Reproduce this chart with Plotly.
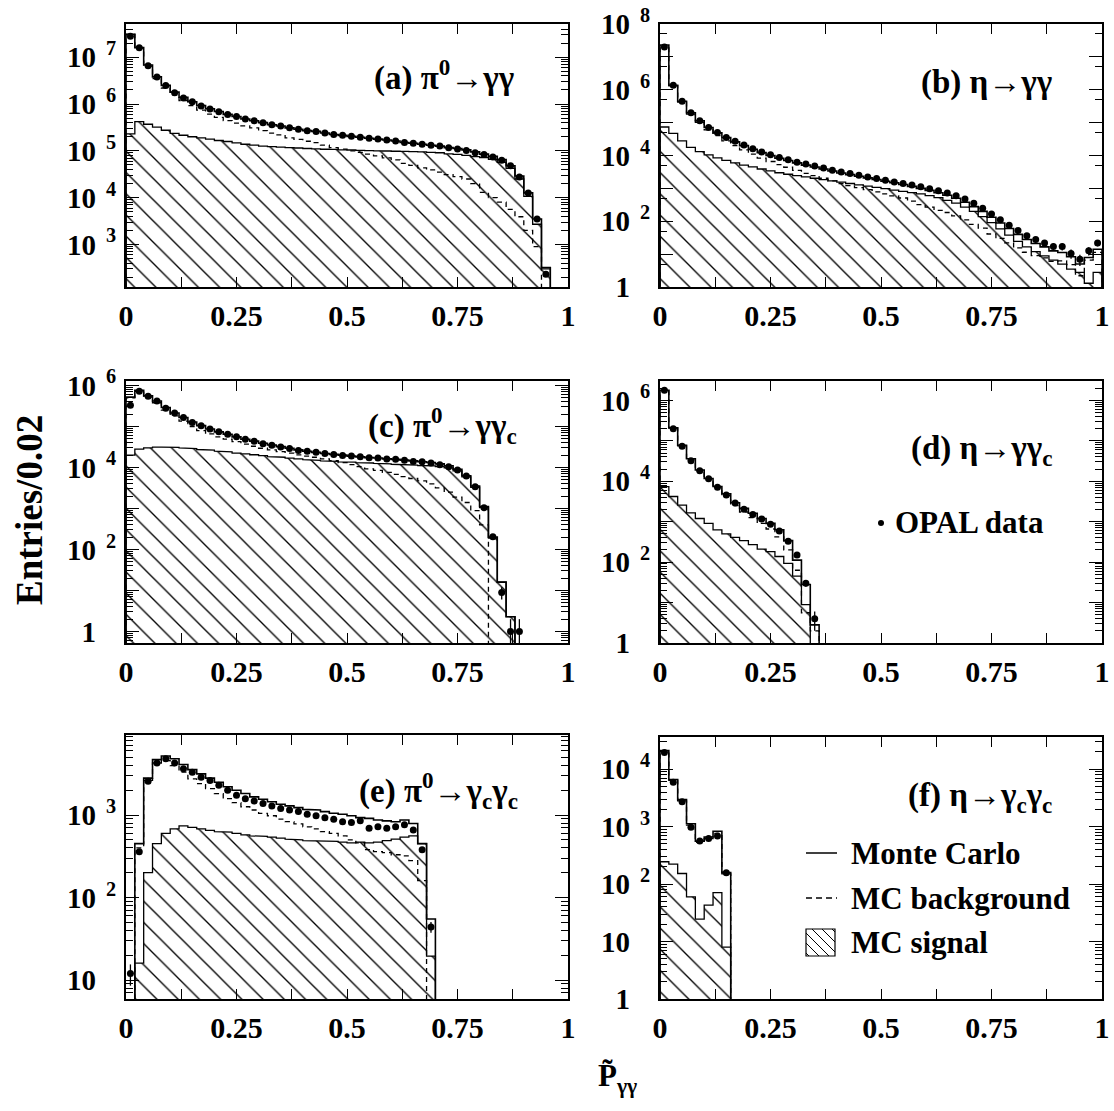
import math
import plotly.graph_objects as go

BIN = 0.02

# ---------------- panel (a) pi0 -> gamma gamma ----------------
a_total = [3.1e7, 1.6e7, 6.8e6, 3.8e6, 2.5e6, 1.8e6, 1.4e6, 1.12e6, 9.3e5, 7.9e5, 6.9e5, 6.0e5,
           5.4e5, 4.8e5, 4.4e5, 4.0e5, 3.6e5, 3.4e5, 3.1e5, 2.9e5, 2.7e5, 2.6e5, 2.4e5, 2.24e5,
           2.14e5, 2.04e5, 1.95e5, 1.86e5, 1.78e5, 1.70e5, 1.62e5, 1.51e5, 1.45e5, 1.38e5, 1.32e5,
           1.26e5, 1.17e5, 1.12e5, 1.05e5, 9.5e4, 8.5e4, 7.6e4, 6.5e4, 4.8e4, 2.9e4, 1.26e4, 3.5e3, 320]
a_data = [2.8e7, 1.6e7, 6.6e6, 3.8e6, 2.5e6, 1.75e6, 1.35e6, 1.12e6, 9.1e5, 7.8e5, 6.8e5, 6.0e5,
          5.4e5, 4.8e5, 4.4e5, 4.0e5, 3.6e5, 3.4e5, 3.1e5, 2.9e5, 2.7e5, 2.6e5, 2.4e5, 2.24e5,
          2.14e5, 2.04e5, 1.95e5, 1.86e5, 1.78e5, 1.70e5, 1.62e5, 1.51e5, 1.45e5, 1.38e5, 1.32e5,
          1.26e5, 1.17e5, 1.10e5, 1.02e5, 9.1e4, 8.3e4, 7.4e4, 6.3e4, 4.8e4, 2.75e4, 1.26e4, 3.5e3, 230]
a_signal = [2.3e5, 4.2e5, 3.7e5, 3.2e5, 2.75e5, 2.35e5, 2.15e5, 2.0e5, 1.9e5, 1.78e5, 1.66e5, 1.58e5,
            1.48e5, 1.38e5, 1.32e5, 1.26e5, 1.23e5, 1.2e5, 1.17e5, 1.15e5, 1.12e5, 1.1e5, 1.08e5, 1.07e5,
            1.05e5, 1.04e5, 1.02e5, 1.01e5, 1.0e5, 9.9e4, 9.8e4, 9.7e4, 9.6e4, 9.5e4, 9.3e4, 9.1e4,
            8.6e4, 8.4e4, 8.0e4, 7.5e4, 7.2e4, 6.6e4, 5.7e4, 4.2e4, 2.5e4, 1.06e4, 2.7e3, 300]
a_background = [3.08e7, 1.56e7, 6.4e6, 3.5e6, 2.2e6, 1.57e6, 1.19e6, 9.2e5, 7.4e5, 6.1e5, 5.2e5, 4.4e5,
                3.9e5, 3.4e5, 3.1e5, 2.7e5, 2.4e5, 2.2e5, 1.9e5, 1.75e5, 1.6e5, 1.5e5, 1.32e5, 1.17e5,
                1.09e5, 1.0e5, 9.3e4, 8.5e4, 7.8e4, 7.1e4, 6.4e4, 5.4e4, 4.9e4, 4.3e4, 3.9e4, 3.5e4,
                3.1e4, 2.8e4, 2.5e4, 2.0e4, 1.3e4, 1.0e4, 8.0e3, 5.6e3, 3.9e3, 2.0e3, 900, 0]

# ---------------- panel (b) eta -> gamma gamma ----------------
b_total = [2.3e7, 1.38e6, 4.5e5, 2.0e5, 1.15e5, 7.1e4, 4.9e4, 3.5e4, 2.6e4, 2.0e4, 1.55e4, 1.23e4,
           1.0e4, 8300, 7100, 6000, 5100, 4500, 3900, 3400, 2950, 2630, 2340, 2090, 1860, 1660,
           1480, 1320, 1150, 1000, 870, 740, 620, 500, 380, 280, 200, 132, 89, 60, 40, 28, 21,
           16.6, 12.6, 11.2, 8.3, 5.0, 7.9, 14.1]
b_data = [2.0e7, 1.38e6, 4.5e5, 2.0e5, 1.15e5, 7.2e4, 5.0e4, 3.55e4, 2.7e4, 2.1e4, 1.62e4, 1.29e4,
          1.05e4, 8700, 7400, 6300, 5500, 4800, 4200, 3600, 3160, 2820, 2510, 2240, 2000, 1780,
          1580, 1410, 1260, 1120, 980, 850, 720, 600, 480, 355, 250, 166, 112, 76, 52, 36, 28,
          22, 17, 17, 10.5, 7, 12.6, 22]
b_signal = [74000, 47000, 28000, 17800, 13200, 10500, 8500, 7100, 6000, 5100, 4500, 3900, 3400,
            3000, 2700, 2450, 2240, 2040, 1860, 1700, 1550, 1410, 1290, 1175, 1070, 980, 890, 810,
            740, 680, 600, 525, 435, 355, 270, 200, 138, 91, 59, 38, 24.5, 16.6, 12.0, 8.9, 6.6,
            5.0, 3.5, 2.8, 1.3, 2.8]
b_background = [2.29e7, 1.33e6, 4.2e5, 1.82e5, 1.02e5, 6.06e4, 4.05e4, 2.79e4, 2.0e4, 1.49e4, 1.1e4,
                8400, 6600, 5300, 4400, 3550, 2860, 2460, 2040, 1700, 1400, 1220, 1050, 915, 790,
                680, 590, 510, 410, 320, 270, 215, 185, 145, 110, 80, 62, 41, 30, 22, 15.5, 11.4,
                9.0, 7.7, 6.0, 6.2, 4.8, 2.2, 6.6, 11.3]

# ---------------- panel (c) pi0 -> gamma gamma_c ----------------
c_total = [5.2e5, 7.6e5, 5.6e5, 4.2e5, 2.9e5, 2.14e5, 1.66e5, 1.29e5, 1.05e5, 8.7e4, 7.4e4, 6.5e4,
           5.6e4, 4.9e4, 4.4e4, 3.9e4, 3.55e4, 3.24e4, 2.95e4, 2.7e4, 2.5e4, 2.34e4, 2.19e4, 2.09e4,
           2.0e4, 1.9e4, 1.82e4, 1.74e4, 1.7e4, 1.62e4, 1.58e4, 1.51e4, 1.45e4, 1.38e4, 1.32e4,
           1.23e4, 1.1e4, 9100, 6300, 3550, 1120, 200, 16, 2.3]
c_data = [3.3e5, 7.2e5, 5.5e5, 4.2e5, 2.8e5, 2.14e5, 1.66e5, 1.26e5, 1.05e5, 8.7e4, 7.4e4, 6.5e4,
          5.6e4, 4.9e4, 4.4e4, 3.8e4, 3.5e4, 3.16e4, 2.9e4, 2.6e4, 2.5e4, 2.34e4, 2.19e4, 2.09e4,
          1.95e4, 1.9e4, 1.82e4, 1.74e4, 1.7e4, 1.62e4, 1.58e4, 1.51e4, 1.41e4, 1.38e4, 1.29e4,
          1.17e4, 1.05e4, 8700, 6200, 3400, 1050, 205, 9, 1, 1]
c_signal = [2.0e4, 2.8e4, 3.0e4, 3.15e4, 3.15e4, 3.1e4, 3.0e4, 2.9e4, 2.75e4, 2.65e4, 2.5e4, 2.4e4,
            2.25e4, 2.15e4, 2.05e4, 1.95e4, 1.85e4, 1.78e4, 1.7e4, 1.62e4, 1.55e4, 1.5e4, 1.45e4,
            1.41e4, 1.38e4, 1.35e4, 1.32e4, 1.29e4, 1.26e4, 1.23e4, 1.2e4, 1.17e4, 1.15e4, 1.12e4,
            1.1e4, 1.05e4, 9800, 8300, 5900, 3300, 1050, 190, 16, 2.3]
c_background = [5.0e5, 7.2e5, 5.2e5, 3.8e5, 2.5e5, 1.82e5, 1.35e5, 1.0e5, 7.9e4, 6.6e4, 5.6e4, 4.9e4,
                4.3e4, 3.7e4, 3.3e4, 2.95e4, 2.7e4, 2.45e4, 2.24e4, 2.04e4, 1.9e4, 1.78e4, 1.62e4,
                1.48e4, 1.32e4, 1.17e4, 1.05e4, 9300, 8500, 7600, 6800, 6000, 5400, 4700, 4000,
                3200, 2500, 1900, 1400, 890, 400, 0]

# ---------------- panel (d) eta -> gamma gamma_c ----------------
d_total = [1.78e6, 2.1e5, 7.8e4, 3.6e4, 1.9e4, 1.17e4, 7400, 4900, 2950, 2140, 1620, 1200, 910,
           630, 340, 112, 28, 2.8]
d_data = [1.78e6, 2.0e5, 7.4e4, 3.2e4, 1.82e4, 1.15e4, 7100, 4600, 2900, 2040, 1510, 1170, 870,
          590, 330, 150, 30, 4]
d_signal = [7400, 4200, 2570, 1660, 1200, 910, 630, 500, 410, 340, 270, 210, 182, 138, 93, 45, 8.9, 0]
d_background = [1.77e6, 2.06e5, 7.5e4, 3.4e4, 1.8e4, 1.1e4, 6800, 4400, 2500, 1740, 1260, 910, 660,
                420, 200, 63, 5.6, 2.0]

# ---------------- panel (e) pi0 -> gamma_c gamma_c ----------------
e_total = [0, 450, 2800, 4700, 5200, 4800, 4100, 3550, 3150, 2800, 2500, 2200, 2000, 1820, 1660,
           1550, 1450, 1350, 1290, 1230, 1170, 1150, 1100, 1050, 1020, 980, 930, 910, 870, 850,
           830, 870, 790, 450, 55]
e_data = [12, 360, 2570, 4270, 4800, 4270, 3630, 3310, 2880, 2630, 2290, 2000, 1740, 1580, 1480,
          1380, 1290, 1200, 1150, 1100, 1020, 980, 930, 890, 830, 810, 850, 690, 720, 690, 720,
          760, 660, 380, 44]
e_signal = [0, 16, 200, 450, 600, 680, 740, 710, 680, 650, 630, 620, 600, 575, 560, 550, 540, 525,
            510, 500, 490, 490, 480, 480, 470, 460, 470, 460, 470, 490, 510, 540, 560, 450, 19.5]
e_background = [0, 400, 2630, 4270, 4570, 3980, 3310, 2750, 2400, 2090, 1820, 1580, 1410, 1260,
                1150, 1050, 980, 890, 830, 780, 720, 680, 630, 600, 560, 500, 460, 380, 360, 350,
                330, 320, 280, 160, 0]

# ---------------- panel (f) eta -> gamma_c gamma_c ----------------
f_total = [2.1e4, 6600, 2950, 1120, 560, 660, 830, 158]
f_data = [1.95e4, 5900, 2700, 980, 560, 620, 690, 158]
f_signal = [245, 223, 153, 60, 24.5, 43, 71, 8]
f_background = [2.07e4, 6380, 2800, 1060, 535, 617, 760, 150]

# ---------------- texts ----------------
panel_labels = ["(a) π<sup>0</sup>→γγ", "(b) η→γγ", "(c) π<sup>0</sup>→γγ<sub>c</sub>",
                "(d) η→γγ<sub>c</sub>", "(e) π<sup>0</sup>→γ<sub>c</sub>γ<sub>c</sub>",
                "(f) η→γ<sub>c</sub>γ<sub>c</sub>"]
legend_labels = ["Monte Carlo", "MC background", "MC signal"]
data_label = "OPAL data"
y_title = "Entries/0.02"
x_title = "P\u0303<sub>γγ</sub>"
x_tick_vals = [0, 0.25, 0.5, 0.75, 1.0]
x_tick_text = ["0", "0.25", "0.5", "0.75", "1"]
x_minor_vals = [0.125, 0.375, 0.625, 0.875]

# ---------------- layout geometry (page pixels) ----------------
W, H = 1114, 1111
FONT = "Liberation Serif"
FLOOR = 1e-6


def px(x):
    return x / W


def py(y):
    return 1 - y / H


panels = [
    dict(total=a_total, data=a_data, signal=a_signal, bg=a_background,
         box=(126, 568, 24, 287), yr=(2.09, 7.71), major=range(3, 8), labeled=range(3, 8),
         minor="D1", label_xy=(516, 75)),
    dict(total=b_total, data=b_data, signal=b_signal, bg=b_background,
         box=(660, 1102, 24, 287), yr=(0, 8.003), major=range(0, 9), labeled=range(0, 9, 2),
         minor=[5 * 10 ** k for k in range(8)], label_xy=(1054, 82)),
    dict(total=c_total, data=c_data, signal=c_signal, bg=c_background,
         box=(126, 568, 381, 643), yr=(-0.28, 6.11), major=range(0, 7), labeled=range(0, 7, 2),
         minor="D1", label_xy=(519, 425)),
    dict(total=d_total, data=d_data, signal=d_signal, bg=d_background,
         box=(660, 1102, 381, 643), yr=(0, 6.48), major=range(0, 7), labeled=range(0, 7, 2),
         minor="D1", label_xy=(1054, 450)),
    dict(total=e_total, data=e_data, signal=e_signal, bg=e_background,
         box=(126, 568, 735, 999), yr=(0.77, 3.97), major=range(1, 4), labeled=range(1, 4),
         minor="D1", label_xy=(520, 790)),
    dict(total=f_total, data=f_data, signal=f_signal, bg=f_background,
         box=(660, 1102, 737, 999), yr=(0, 4.56), major=range(0, 5), labeled=range(0, 5),
         minor="D1", label_xy=(1054, 797)),
]

PAD = "<sup><span style='color:rgba(0,0,0,0)'>\u20020</span></sup>"


def ylab(k):
    if k == 0:
        return "1" + PAD
    if k == 1:
        return "10" + PAD
    return "10<sup>\u2002%d</sup>" % k


def step_path(vals):
    xs, ys = [0.0], [FLOOR]
    for i, v in enumerate(vals):
        y = v if v > 0 else FLOOR
        xs += [i * BIN, (i + 1) * BIN]
        ys += [y, y]
    xs.append(len(vals) * BIN)
    ys.append(FLOOR)
    return xs, ys


fig = go.Figure()
layout = dict(template="none", width=W, height=H, margin=dict(l=0, r=0, t=0, b=0, pad=0),
              paper_bgcolor="white", plot_bgcolor="white",
              font=dict(family=FONT, color="black", size=29, weight="bold"),
              showlegend=False, annotations=[], shapes=[])

for n, p in enumerate(panels, start=1):
    xr = "x" if n == 1 else "x%d" % n
    yr_ = "y" if n == 1 else "y%d" % n
    x0, x1, y0, y1 = p["box"]

    # MC signal (hatched)
    xs, ys = step_path(p["signal"])
    fig.add_trace(go.Scatter(
        x=xs, y=ys, xaxis=xr, yaxis=yr_, mode="lines", fill="toself",
        fillcolor="rgba(0,0,0,0)",
        fillpattern=dict(shape="\\", size=15, solidity=0.09, fgcolor="black",
                         bgcolor="rgba(0,0,0,0)"),
        line=dict(color="black", width=1.3), name=legend_labels[2], hoverinfo="skip"))
    # MC background (dashed)
    xs, ys = step_path(p["bg"])
    fig.add_trace(go.Scatter(
        x=xs, y=ys, xaxis=xr, yaxis=yr_, mode="lines",
        line=dict(color="black", width=1.3, dash="5px,4px"), name=legend_labels[1],
        hoverinfo="skip"))
    # Monte Carlo total
    xs, ys = step_path(p["total"])
    fig.add_trace(go.Scatter(
        x=xs, y=ys, xaxis=xr, yaxis=yr_, mode="lines",
        line=dict(color="black", width=1.6), name=legend_labels[0], hoverinfo="skip"))
    # OPAL data
    dx, dy, eu, ed = [], [], [], []
    for i, v in enumerate(p["data"]):
        dx.append((i + 0.5) * BIN)
        if v > 0:
            s = math.sqrt(v)
            dy.append(v)
            eu.append(s)
            ed.append(min(s, 0.97 * v))
        else:
            dy.append(None)
            eu.append(0)
            ed.append(0)
    fig.add_trace(go.Scatter(
        x=dx, y=dy, xaxis=xr, yaxis=yr_, mode="markers",
        marker=dict(color="black", size=7, symbol="circle"),
        error_y=dict(type="data", array=eu, arrayminus=ed, color="black", thickness=1.3, width=0),
        name=data_label, hoverinfo="skip"))

    lo, hi = p["yr"]
    layout["xaxis" if n == 1 else "xaxis%d" % n] = dict(
        domain=[px(x0), px(x1)], anchor=yr_, range=[0, 1], showgrid=False, zeroline=False,
        automargin=False, showline=True, linecolor="black", linewidth=2, mirror="allticks",
        ticks="inside", ticklen=10, tickwidth=1.3, tickcolor="black",
        tickmode="array", tickvals=x_tick_vals, ticktext=x_tick_text,
        minor=dict(ticks="inside", ticklen=10, tickwidth=1.3, tickcolor="black",
                   tickmode="array", tickvals=x_minor_vals, showgrid=False),
        tickfont=dict(family=FONT, size=30, weight="bold"), ticklabelstandoff=1)
    if p["minor"] == "D1":
        minor = dict(ticks="inside", ticklen=7, tickwidth=1, tickcolor="black", dtick="D1",
                     showgrid=False)
    else:
        minor = dict(ticks="inside", ticklen=7, tickwidth=1, tickcolor="black",
                     tickmode="array", tickvals=p["minor"], showgrid=False)
    layout["yaxis" if n == 1 else "yaxis%d" % n] = dict(
        domain=[py(y1), py(y0)], anchor=xr, type="log", range=[lo, hi],
        showgrid=False, zeroline=False, automargin=False, showline=True, linecolor="black",
        linewidth=2, mirror="allticks", ticks="inside", ticklen=13, tickwidth=1.3,
        tickcolor="black", tickmode="array", tickvals=[10 ** k for k in p["major"]],
        ticktext=[ylab(k) if k in p["labeled"] else "" for k in p["major"]],
        tickfont=dict(family=FONT, size=29, weight="bold"), minor=minor, ticklabelstandoff=2,
        ticklabeloverflow="allow")
    lx, ly = p["label_xy"]
    layout["annotations"].append(dict(
        text=panel_labels[n - 1], x=px(lx), y=py(ly), xref="paper", yref="paper",
        xanchor="right", yanchor="middle", showarrow=False,
        font=dict(family=FONT, size=33, weight="bold")))

# axis titles
layout["annotations"].append(dict(
    text=y_title, x=px(30), y=py(510), xref="paper", yref="paper",
    textangle=-90, showarrow=False, xanchor="center", yanchor="middle",
    font=dict(family=FONT, size=37, weight="bold")))
layout["annotations"].append(dict(
    text=x_title, x=px(617), y=py(1078), xref="paper", yref="paper",
    showarrow=False, xanchor="center", yanchor="middle",
    font=dict(family=FONT, size=31, weight="bold")))

# ---------------- legend (drawn in panel f / d) ----------------
LEG_TEXT_X = 849
rows = [853, 898, 942]
for lab, yy in zip(legend_labels, rows):
    layout["annotations"].append(dict(
        text=lab, x=px(LEG_TEXT_X), y=py(yy), xref="paper", yref="paper",
        xanchor="left", yanchor="middle", showarrow=False,
        font=dict(family=FONT, size=31, weight="bold")))
layout["shapes"].append(dict(type="line", xref="paper", yref="paper",
                             x0=px(806), x1=px(837), y0=py(rows[0]), y1=py(rows[0]),
                             line=dict(color="black", width=1.5)))
layout["shapes"].append(dict(type="line", xref="paper", yref="paper",
                             x0=px(806), x1=px(837), y0=py(rows[1]), y1=py(rows[1]),
                             line=dict(color="black", width=1.5, dash="6px,4px")))
bx0, bx1, by0, by1 = 806, 835, 929, 956
layout["shapes"].append(dict(type="rect", xref="paper", yref="paper",
                             x0=px(bx0), x1=px(bx1), y0=py(by1), y1=py(by0),
                             line=dict(color="black", width=1.2)))
for c in range(-24, 30, 10):
    xa = max(bx0, bx0 + c)
    ya = by0 + (xa - bx0) - c
    xb = min(bx1, bx0 + c + (by1 - by0))
    yb = by0 + (xb - bx0) - c
    if xb > xa:
        layout["shapes"].append(dict(type="line", xref="paper", yref="paper",
                                     x0=px(xa), y0=py(ya), x1=px(xb), y1=py(yb),
                                     line=dict(color="black", width=1)))
layout["shapes"].append(dict(type="circle", xref="paper", yref="paper",
                             x0=px(878), x1=px(884), y0=py(526), y1=py(520),
                             fillcolor="black", line=dict(color="black", width=0)))
layout["annotations"].append(dict(
    text=data_label, x=px(893), y=py(523), xref="paper", yref="paper",
    xanchor="left", yanchor="middle", showarrow=False,
    font=dict(family=FONT, size=31, weight="bold")))

fig.update_layout(**layout)
# remove the default 8px page margin so the figure sits at the window's top-left corner
fig.write_html("out.html", config={"displayModeBar": False},
               post_script="document.body.style.margin='0';document.body.style.overflow='hidden';")
